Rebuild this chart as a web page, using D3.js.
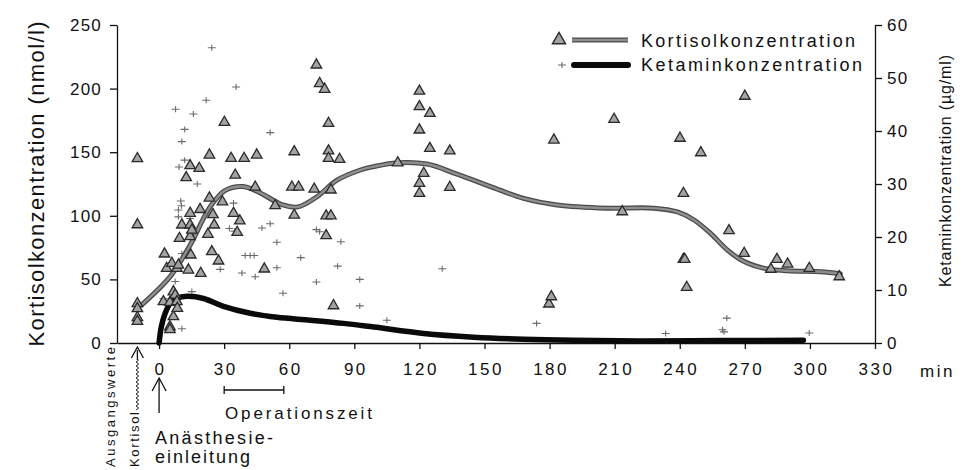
<!DOCTYPE html>
<html>
<head>
<meta charset="utf-8">
<script src="https://cdn.jsdelivr.net/npm/d3@7"></script>
<style>
  body { margin: 0; background: #fff; }
  svg { display: block; }
  text { font-family: "Liberation Sans", Arial, Helvetica, sans-serif; fill: #111; }
</style>
</head>
<body>
<svg id="chart" width="964" height="470"></svg>
<script>
// ---- tick values ----
const xTicks = [0, 30, 60, 90, 120, 150, 180, 210, 240, 270, 300, 330];
const yLeftTicks = [0, 50, 100, 150, 200, 250];
const yRightTicks = [0, 10, 20, 30, 40, 50, 60];

// ---- cortisol baseline values (before induction) ----
const baselineTime = -10;
const cortisolBaseline = [145, 93, 31, 27, 20, 17];

// ---- cortisol measurements (min, nmol/l) ----
const cortisolTime = [
  2.0, 2.5, 3.5, 5.0, 5.0, 5.0, 5.9, 6.6, 6.6, 7.4, 8.2, 8.2, 8.4, 8.9, 9.4, 10.5,
  12.5, 13.5, 14.3, 14.3, 14.3, 14.3, 14.6, 15.1, 18.5, 18.9, 19.2, 22.5, 23.2, 23.2,
  24.3, 24.8, 25.4, 27.4, 29.2, 30.1, 33.2, 34.3, 35.1, 36.0, 37.2, 39.2, 44.3, 45.0,
  48.5, 53.5, 61.2, 62.3, 62.3, 64.3, 71.5, 72.5, 74.0, 76.3, 77.0, 77.0, 78.1, 78.1,
  78.1, 79.2, 79.2, 80.4, 83.2, 110, 120, 120, 120, 120, 120, 122, 124.8, 124.8, 134,
  134, 179.7, 180.8, 182, 209.7, 213.5, 240.1, 241.7, 241.7, 242.3, 243.2, 249.7,
  262.7, 269.7, 270, 282, 284.8, 289.7, 299.7, 313.5
];
const cortisolValue = [
  32.5, 70, 58.7, 32, 12.8, 10.5, 62.6, 40.3, 20.7, 37.7, 58.7, 32.5, 27.3, 61.3, 82.3, 92.8,
  130, 57.4, 139.4, 102, 92.8, 83.6, 69.2, 88.8, 137.3, 105, 54.8, 85.5, 147.8, 114,
  71.8, 101, 92.8, 64.5, 111, 173.5, 145.2, 102, 132, 87, 96, 145.2, 122.6, 147.8,
  58.2, 108, 122.6, 150.4, 100.6, 122.6, 121, 218.6, 204, 199.5, 100, 84.4, 172.7, 151,
  145.2, 120.3, 100, 29.3, 144.4, 141.7, 198, 185.8, 167.5, 125.5, 117.7, 133.4, 180.6, 153, 151,
  122.4, 30.7, 36.4, 159.6, 175.9, 103.2, 161, 117.7, 65.8, 65.8, 43.8, 149.6,
  88.3, 70.5, 194, 58, 65.8, 62.1, 58.7, 52.1
];

// ---- ketamine measurements (min, µg/ml) ----
const ketaminTime = [
  24.3, 35.5, 21.7, 7.6, 15.8, 51.2, 11.8, 10.5, 11.8, 9.2, 17.6, 10.0, 10.3, 8.9, 8.9,
  14.3, 34.3, 32.4, 34.8, 47.4, 51.2, 54.3, 39.7, 42.0, 43.8, 65.3, 72.5, 74.0, 83.8,
  82.3, 38.2, 44.3, 54.3, 28.2, 72.5, 57.1, 92.5, 92.5, 130.5, 105, 174, 233.5, 261.7,
  259.7, 260.4, 299.7, 10.5, 12.8, 7.4, 15.1, 2.0, 10.5
];
const ketaminValue = [
  55.7, 48.3, 45.8, 44.1, 43.2, 39.7, 40.3, 38, 34.5, 33.2, 30, 26.8, 25.9, 25.1, 23.8,
  23.5, 26.4, 21.6, 21.1, 21.7, 22.5, 19, 16.5, 16.5, 16.5, 16.1, 21.4, 21, 19.1,
  14.5, 13.2, 12.5, 14.2, 13.9, 11.5, 9.4, 12, 7, 14, 4.3, 3.7, 1.8, 4.7,
  2.5, 2.1, 1.9, 16.9, 16.3, 11.6, 9.7, 8.4, 2.7
];

// ---- fitted mean curves ----
const cortisolFitTime = [-8, 5, 14, 23.5, 30.5, 38.8, 46.6, 57, 64, 72.8, 82, 92.8, 98.8, 110,
  123.5, 137, 152.8, 168, 183.5, 206.6, 228, 239, 246.6, 254.3, 262, 269.7, 279, 289.6, 305, 314];
const cortisolFitValue = [30, 52, 76, 107, 120, 123, 118, 108.5, 107, 115, 128, 136, 138.6, 141.7,
  140.7, 133, 123, 113.7, 108.5, 106, 106, 103, 96.7, 86, 73, 64, 58.7, 56.8, 56, 54.5];

const ketaminFitTime = [0, 1, 2.8, 5, 8.2, 12.8, 20.5, 29.7, 42, 54.3, 69.7, 85, 99, 122, 145, 168, 191, 222, 260, 297];
const ketaminFitValue = [0, 3, 5.6, 7.4, 8.4, 8.8, 8.4, 6.9, 5.6, 4.85, 4.3, 3.7, 3.0, 1.8, 1.1, 0.7, 0.5, 0.4, 0.45, 0.5];

// ---- layout ----
const svg = d3.select("#chart");
const x = d3.scaleLinear().domain([-19.4, 330]).range([117, 875]);
const yL = d3.scaleLinear().domain([0, 250]).range([343, 25]);
const yR = d3.scaleLinear().domain([0, 60]).range([343, 25]);
const FONT = '"Liberation Sans", Arial, Helvetica, sans-serif';

// ---- axes ----
function styleAxis(g, size, spacing) {
  g.attr("font-family", FONT).attr("font-size", size);
  g.selectAll("path.domain").attr("stroke", "#111").attr("stroke-width", 1.3);
  g.selectAll(".tick line").attr("stroke", "#111").attr("stroke-width", 1.3);
  g.selectAll(".tick text").attr("fill", "#111").style("letter-spacing", spacing + "px");
}

const gLeft = svg.append("g").attr("transform", "translate(117,0)")
  .call(d3.axisLeft(yL).tickValues(yLeftTicks).tickSize(7).tickPadding(8).tickSizeOuter(0));
styleAxis(gLeft, 17, 1.2);

const gRight = svg.append("g").attr("transform", "translate(875,0)")
  .call(d3.axisRight(yR).tickValues(yRightTicks).tickSize(7).tickPadding(5).tickSizeOuter(0));
styleAxis(gRight, 17, 1.2);

const gBottom = svg.append("g").attr("transform", "translate(0,343)")
  .call(d3.axisBottom(x).tickValues(xTicks).tickSize(6).tickPadding(14).tickSizeOuter(0));
styleAxis(gBottom, 17, 2.5);
gBottom.selectAll(".tick text").attr("dx", "1px");

// axis unit for time
svg.append("text").attr("x", 920).attr("y", 377).attr("font-size", 17)
  .style("letter-spacing", "2.5px").text("min");

// axis titles
svg.append("text")
  .attr("transform", "translate(44,184) rotate(-90)")
  .attr("text-anchor", "middle").attr("font-size", 22)
  .attr("textLength", 325).attr("lengthAdjust", "spacing")
  .text("Kortisolkonzentration (nmol/l)");

svg.append("text")
  .attr("transform", "translate(951,171) rotate(-90)")
  .attr("text-anchor", "middle").attr("font-size", 16)
  .attr("textLength", 232).attr("lengthAdjust", "spacing")
  .text("Ketaminkonzentration (µg/ml)");

// ---- fitted curves ----
const lineK = d3.line().x(d => x(d[0])).y(d => yL(d[1])).curve(d3.curveCatmullRom.alpha(0.5));
const lineM = d3.line().x(d => x(d[0])).y(d => yR(d[1])).curve(d3.curveCatmullRom.alpha(0.5));
const cortisolFit = cortisolFitTime.map((t, i) => [t, cortisolFitValue[i]]);
const ketaminFit = ketaminFitTime.map((t, i) => [t, ketaminFitValue[i]]);

// ---- scatter: ketamine crosses ----
const crossG = svg.append("g");
ketaminTime.forEach((t, i) => {
  const cx = x(t), cy = yR(ketaminValue[i]);
  crossG.append("path")
    .attr("d", `M${cx - 4},${cy}H${cx + 4}M${cx},${cy - 3}V${cy + 3}`)
    .attr("stroke", "#6a6a6a").attr("stroke-width", 1.1).attr("fill", "none");
});

// ketamine curve (black)
svg.append("path").datum(ketaminFit).attr("d", lineM)
  .attr("fill", "none").attr("stroke", "#0a0a0a").attr("stroke-width", 5.5)
  .attr("stroke-linecap", "round");

// cortisol curve (grey band with darker edges)
svg.append("path").datum(cortisolFit).attr("d", lineK)
  .attr("fill", "none").attr("stroke", "#4a4a4a").attr("stroke-width", 5).attr("stroke-linecap", "round");
svg.append("path").datum(cortisolFit).attr("d", lineK)
  .attr("fill", "none").attr("stroke", "#8e8e8e").attr("stroke-width", 2.4).attr("stroke-linecap", "round");

// ---- scatter: cortisol triangles ----
const tri = d3.symbol().type(d3.symbolTriangle).size(48);
const triG = svg.append("g");
const cortisolAll = cortisolBaseline.map(v => [baselineTime, v])
  .concat(cortisolTime.map((t, i) => [t, cortisolValue[i]]));
triG.selectAll("path").data(cortisolAll).join("path")
  .attr("d", tri)
  .attr("transform", d => `translate(${x(d[0])},${yL(d[1])})`)
  .attr("fill", "#a3a3a3").attr("stroke", "#2a2a2a").attr("stroke-width", 1.3);

// ---- legend ----
const lg = svg.append("g");
lg.append("path").attr("d", d3.symbol().type(d3.symbolTriangle).size(75)())
  .attr("transform", "translate(559,40)")
  .attr("fill", "#a3a3a3").attr("stroke", "#2a2a2a").attr("stroke-width", 1.4);
lg.append("line").attr("x1", 572).attr("x2", 628).attr("y1", 40).attr("y2", 40)
  .attr("stroke", "#4a4a4a").attr("stroke-width", 5);
lg.append("line").attr("x1", 572).attr("x2", 628).attr("y1", 40).attr("y2", 40)
  .attr("stroke", "#8e8e8e").attr("stroke-width", 2.4);
lg.append("text").attr("x", 641).attr("y", 47).attr("font-size", 18)
  .attr("textLength", 214).attr("lengthAdjust", "spacing").text("Kortisolkonzentration");

lg.append("path").attr("d", "M558,65H566M562,62V68")
  .attr("stroke", "#6a6a6a").attr("stroke-width", 1.1);
lg.append("line").attr("x1", 574).attr("x2", 628).attr("y1", 65).attr("y2", 65)
  .attr("stroke", "#0a0a0a").attr("stroke-width", 6).attr("stroke-linecap", "round");
lg.append("text").attr("x", 641).attr("y", 71).attr("font-size", 18)
  .attr("textLength", 221).attr("lengthAdjust", "spacing").text("Ketaminkonzentration");

// ---- annotations below the time axis ----
const ann = svg.append("g").attr("stroke", "#111").attr("fill", "none").attr("stroke-width", 1.3);
// induction arrow at t = 0
ann.append("path").attr("d", `M${x(0)},413V379`);
ann.append("path").attr("d", `M${x(0) - 7},391L${x(0)},378L${x(0) + 7},391`);
svg.append("text").attr("x", 155).attr("y", 444).attr("font-size", 18)
  .attr("textLength", 118).attr("lengthAdjust", "spacing").text("Anästhesie-");
svg.append("text").attr("x", 155).attr("y", 463).attr("font-size", 18)
  .attr("textLength", 95).attr("lengthAdjust", "spacing").text("einleitung");

// operation time bracket
ann.append("path").attr("d", `M${x(30)},390H${x(57.5)}M${x(30)},386V394M${x(57.5)},386V394`);
svg.append("text").attr("x", 225).attr("y", 419).attr("font-size", 17)
  .attr("textLength", 147).attr("lengthAdjust", "spacing").text("Operationszeit");

// baseline arrow (wavy shaft) at t = -10
const bx = x(baselineTime);
const wave = d3.range(0, 26).map(i => [bx + (i % 2 ? 1.3 : -1.3), 410 - i * 2]);
ann.append("path").attr("d", d3.line()(wave)).attr("stroke-width", 1);
ann.append("path").attr("d", `M${bx},360V350`);
ann.append("path").attr("d", `M${bx - 6},358L${bx},347L${bx + 6},358`);
svg.append("text").attr("transform", "translate(115,467) rotate(-90)")
  .attr("font-size", 13).attr("textLength", 120).attr("lengthAdjust", "spacing").text("Ausgangswerte");
svg.append("text").attr("transform", "translate(139,467) rotate(-90)")
  .attr("font-size", 13).attr("textLength", 55).attr("lengthAdjust", "spacing").text("Kortisol");
</script>
</body>
</html>
